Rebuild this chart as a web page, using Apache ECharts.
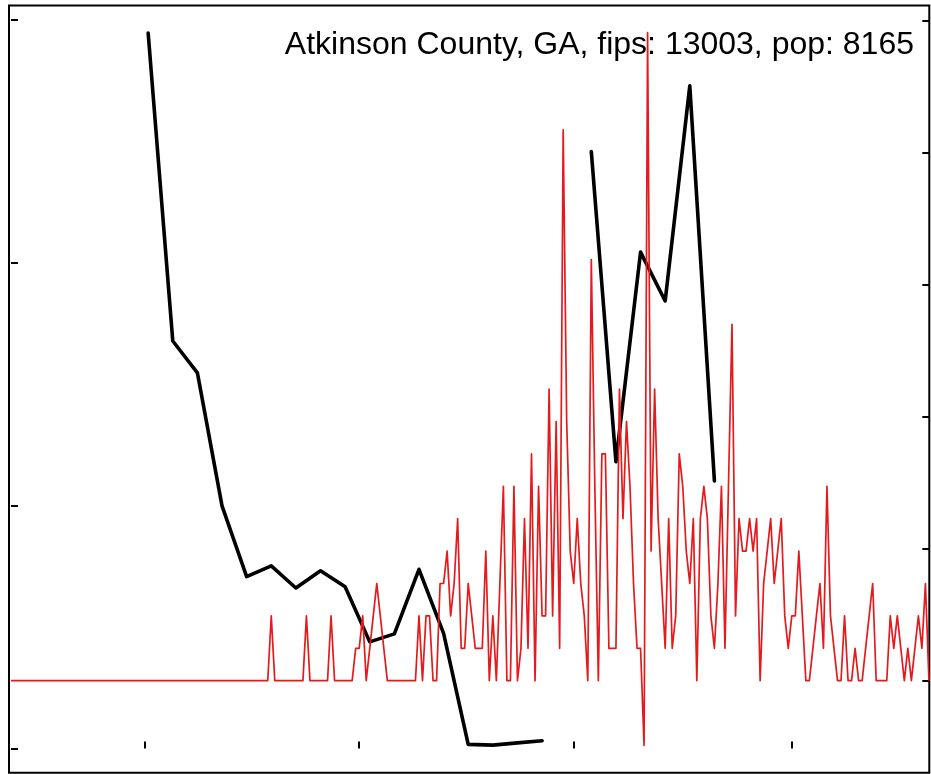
<!DOCTYPE html>
<html>
<head>
<meta charset="utf-8">
<script src="https://cdn.jsdelivr.net/npm/echarts@6/dist/echarts.min.js"></script>
<style>
  html, body { margin: 0; padding: 0; background: #fff; }
  #chart { width: 931px; height: 774px; }
</style>
</head>
<body>
<div id="chart"></div>
<script>
// title shown in the top right corner
const titleText = 'Atkinson County, GA, fips: 13003, pop: 8165';

// daily new cases, one value per day (index = day number)
const dailyCases = [
  0, 0, 0, 0, 0, 0, 0, 0, 0, 0,   // 0
  0, 0, 0, 0, 0, 0, 0, 0, 0, 0,   // 10
  0, 0, 0, 0, 0, 0, 0, 0, 0, 0,   // 20
  0, 0, 0, 0, 0, 0, 0, 0, 0, 0,   // 30
  0, 0, 0, 0, 0, 0, 0, 0, 0, 0,   // 40
  0, 0, 0, 0, 0, 0, 0, 0, 0, 0,   // 50
  0, 0, 0, 0, 0, 0, 0, 0, 0, 0,   // 60
  0, 0, 0, 0, 2, 0, 0, 0, 0, 0,   // 70
  0, 0, 0, 0, 2, 0, 0, 0, 0, 0,   // 80
  0, 2, 0, 0, 0, 0, 0, 0, 1, 1,   // 90
  2, 0, 1, 2, 3, 2, 1, 0, 0, 0,   // 100
  0, 0, 0, 0, 0, 0, 2, 0, 2, 2,   // 110
  0, 0, 3, 3, 4, 2, 3, 5, 1, 1,   // 120
  3, 2, 1, 1, 1, 4, 0, 2, 0, 3,   // 130
  6, 0, 0, 6, 0, 1, 5, 1, 7, 0,   // 140
  6, 2, 2, 9, 2, 8, 1, 17, 8, 4,  // 150
  3, 5, 3, 2, 0, 13, 6, 0, 7, 7,  // 160
  1, 1, 1, 9, 5, 8, 6, 3, 1, 1,   // 170
  -2, 20, 4, 9, 5, 3, 1, 5, 1, 2, // 180
  7, 6, 4, 3, 5, 0, 5, 6, 5, 2,   // 190
  1, 3, 6, 1, 6, 11, 2, 5, 4, 4,  // 200
  5, 4, 5, 0, 3, 4, 5, 3, 4, 5,   // 210
  2, 1, 2, 2, 4, 2, 0, 0, 1, 2,   // 220
  3, 1, 6, 2, 1, 0, 0, 2, 0, 0,   // 230
  1, 0, 0, 1, 2, 3, 0, 0, 0, 0,   // 240
  2, 1, 2, 1, 0, 1, 0, 1, 2, 1,   // 250
  3, 0                            // 260
];

// weekly points of the black curve (day number, value on the left axis)
const weekDays = [39, 46, 53, 60, 67, 74, 81, 88, 95, 102, 109, 116,
                  123, 130, 137, 144, 151, 158, 165, 172, 179, 186, 193, 200];
const weeklyValues = [2.946, 1.678, 1.547, 0.999, 0.708, 0.752, 0.661, 0.732,
                      0.666, 0.439, 0.472, 0.738, 0.474, 0.017, 0.014, 0.023,
                      0.032, null, 2.458, 1.181, 2.044, 1.843, 2.729, 1.102];

// tick positions (no labels are printed on the original)
const xTicks = [38.1, 99.0, 160.1, 222.0];
const leftTicks = [0, 1, 2, 3];
const rightTicks = [0, 4.074, 8.148, 12.22, 16.30, 20.37];

const chart = echarts.init(document.getElementById('chart'), null, { renderer: 'canvas' });

const tickStyle = { show: true, inside: true, length: 7, lineStyle: { color: '#000', width: 2 } };

chart.setOption({
  animation: false,
  backgroundColor: '#fff',
  grid: {
    left: 9, right: 1.7, top: 5.5, bottom: 1.3,
    show: true, borderColor: '#000', borderWidth: 2, backgroundColor: 'transparent'
  },
  graphic: [{
    type: 'text', z: 0, right: 17, top: 29,
    style: {
      text: titleText, fill: '#000',
      font: '32px "Liberation Sans", Arial, sans-serif'
    }
  }],
  xAxis: {
    type: 'value', min: -0.57, max: 261.1,
    axisLine: { show: false },
    axisTick: Object.assign({ customValues: xTicks }, tickStyle),
    axisLabel: { show: false, customValues: xTicks },
    splitLine: { show: false }
  },
  yAxis: [{
    type: 'value', position: 'left', min: -0.0997, max: 3.0597,
    axisLine: { show: false },
    axisTick: Object.assign({ customValues: leftTicks }, tickStyle),
    axisLabel: { show: false, customValues: leftTicks },
    splitLine: { show: false }
  }, {
    type: 'value', position: 'right', min: -2.84, max: 20.84,
    axisLine: { show: false },
    axisTick: Object.assign({ customValues: rightTicks }, tickStyle),
    axisLabel: { show: false, customValues: rightTicks },
    splitLine: { show: false }
  }],
  series: [{
    name: 'weekly', type: 'line', yAxisIndex: 0, z: 2,
    data: weekDays.map((d, i) => [d, weeklyValues[i]]),
    showSymbol: false, symbol: 'none', connectNulls: false,
    lineStyle: { color: '#000', width: 3.6, cap: 'round', join: 'round' }
  }, {
    name: 'daily', type: 'line', yAxisIndex: 1, z: 3,
    data: dailyCases.map((v, i) => [i, v]),
    showSymbol: false, symbol: 'none',
    lineStyle: { color: '#e41a1c', width: 1.7, join: 'round' }
  }]
});
</script>
</body>
</html>
